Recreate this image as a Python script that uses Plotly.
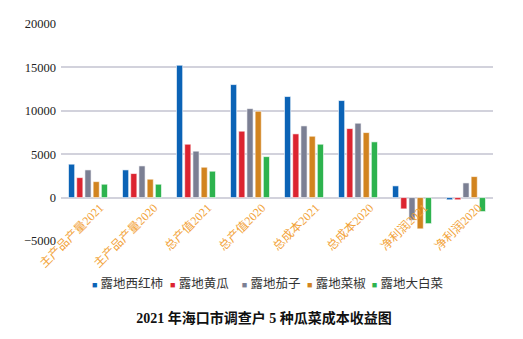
import plotly.graph_objects as go

categories = ["主产品产量2021", "主产品产量2020", "总产值2021", "总产值2020",
              "总成本2021", "总成本2020", "净利润2021", "净利润2020"]
series_names = ["露地西红柿", "露地黄瓜", "露地茄子", "露地菜椒", "露地大白菜"]
tomato = [3850, 3190, 15250, 13020, 11640, 11180, 1350, -250]
cucumber = [2300, 2770, 6150, 7650, 7340, 7950, -1300, -250]
eggplant = [3190, 3650, 5350, 10250, 8260, 8570, -2600, 1690]
pepper = [1840, 2120, 3500, 9950, 7070, 7490, -3600, 2420]
cabbage = [1540, 1540, 3040, 4720, 6150, 6420, -3000, -1610]
y_ticks = [-5000, 0, 5000, 10000, 15000, 20000]
y_tick_text = ["\u22125000", "0", "5000", "10000", "15000", "20000"]
title_text = "2021 年海口市调查户 5 种瓜菜成本收益图"

values = [tomato, cucumber, eggplant, pepper, cabbage]
colors = ["#0b63b6", "#dc2430", "#7b7f93", "#d2841f", "#2db34e"]
legend_x = [-0.021, 0.16, 0.326, 0.477, 0.627]  # paper positions of legend entries

fig = go.Figure()
for i, (name, vals, c) in enumerate(zip(series_names, values, colors)):
    lg = "legend" if i == 0 else f"legend{i + 1}"
    fig.add_trace(go.Bar(x=categories, y=vals, name=name, legendgroup=name,
                         showlegend=False,
                         marker=dict(color=c, line=dict(color="rgba(255,255,255,0.6)", width=1))))
    # legend entry: coloured square key written in the label text
    label = f'<span style="color:{c};font-size:9px">■</span> {name}'
    fig.add_trace(go.Scatter(x=[None], y=[None], name=label, legendgroup=name, legend=lg,
                             mode="none", showlegend=True))

legend_style = dict(orientation="h", y=-0.198, yanchor="middle", xanchor="left",
                    font=dict(family="Liberation Serif, Noto Sans CJK SC", size=12.5, color="#333"),
                    itemwidth=30, bgcolor="rgba(0,0,0,0)")
layout_legends = {}
for i, lx in enumerate(legend_x):
    key = "legend" if i == 0 else f"legend{i + 1}"
    layout_legends[key] = dict(legend_style, x=lx)

fig.update_layout(
    width=523, height=339,
    margin=dict(l=61, r=30, t=24, b=98, autoexpand=False),
    plot_bgcolor="white", paper_bgcolor="white",
    barmode="group", bargap=0.24, bargroupgap=0.25,
    font=dict(family="Liberation Serif, Noto Sans CJK SC", size=12, color="#222"),
    title=dict(text=title_text, x=0.505, xanchor="center", y=0.062, yanchor="middle",
               yref="container",
               font=dict(family="Liberation Serif, Noto Sans CJK SC", size=14, color="#111",
                         weight=600)),
    xaxis=dict(anchor="free", position=0.2, tickangle=-45, showgrid=False,
               showline=False, ticks="", ticklabelshift=12,
               tickfont=dict(family="Liberation Serif, Noto Sans CJK SC", size=12, color="#f2a33a")),
    yaxis=dict(range=[-5000, 20000], tickvals=y_ticks, ticktext=y_tick_text, showgrid=True,
               gridcolor="#d2d2dc", gridwidth=1.5, zeroline=True, zerolinecolor="#d2d2dc",
               zerolinewidth=1.5, ticks="", showline=False, ticklabelstandoff=4,
               tickfont=dict(family="Liberation Serif", size=12.5, color="#222")),
    **layout_legends,
)

fig.write_html("out.html")
